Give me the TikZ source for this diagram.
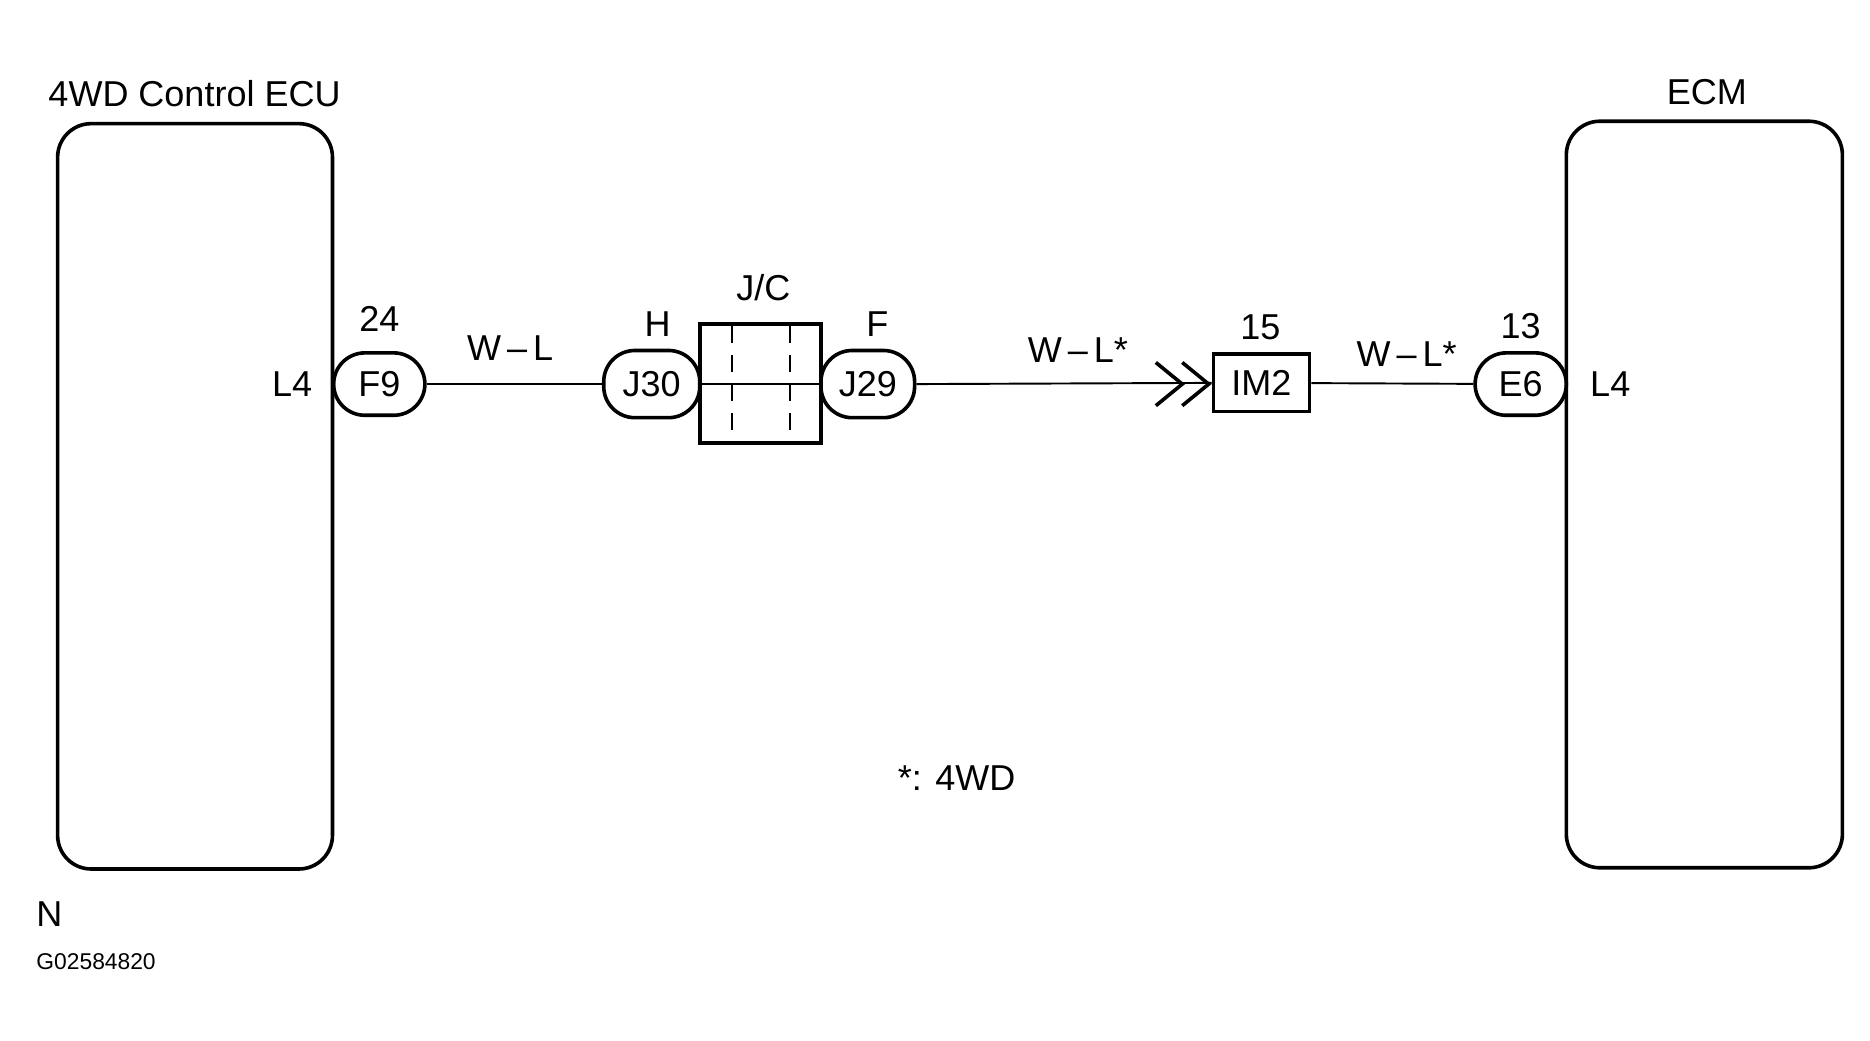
\documentclass[tikz,border=0pt]{standalone}
\usepackage{fontspec}
\setmainfont{Liberation Sans}
\usetikzlibrary{positioning}
\tikzset{
  unit/.style={draw, line width=1.5pt, rounded corners=14pt},
  pill/.style={draw, line width=1.5pt, rounded corners=13pt, minimum width=38pt, minimum height=26pt, inner sep=0pt, font=\fontsize{15}{15}\selectfont},
  term/.style={draw, line width=1.5pt, minimum width=40pt, minimum height=24pt, inner sep=0pt, font=\fontsize{15}{15}\selectfont},
  lbl/.style={font=\fontsize{15}{15}\selectfont, inner sep=0pt},
  wire/.style={line width=0.8pt}
}
\begin{document}
\begin{tikzpicture}[x=0.5pt,y=-0.5pt]
        \useasboundingbox (0,0) rectangle (1558,867);
        % units
        \draw [unit] (48,103) rectangle (277,724);
        \draw [unit] (1305,101) rectangle (1535,723);
        \node (ecu) [lbl, anchor=west] at (40,78) {4WD Control ECU};
        \node (ecm) [lbl] at (1422,77) {ECM};
        % connectors
        \node (f9) [pill] at (316,320) {F9};
        \node (j30) [pill, minimum width=40pt, minimum height=28pt] at (543,320) {J30};
        \node (jc) [term, minimum width=50.5pt, minimum height=49.5pt] at (633.5,319.5) {};
        \node (j29) [pill, minimum width=39pt, minimum height=28pt] at (723,320) {J29};
        \node (im2) [term] at (1051,319) {IM2};
        \node (e6) [pill] at (1267,320) {E6};
        \draw [dashed, line width=0.8pt, dash pattern=on 7pt off 5pt] (610,272) -- (610,368) (658,272) -- (658,368);
        % wires
        \draw [wire] (f9) -- (j30);
        \draw [wire] (j30.east) -- (j29.west);
        \draw [wire] (j29.east) -- (im2.west);
        \draw [wire] (im2) -- (e6);
        \coordinate (chv) at (985,320);
        \draw [line width=1.5pt] ([shift={(-22,-18)}]chv) -- (chv) -- ([shift={(-22,18)}]chv);
        \draw [line width=1.5pt] ([shift={(0,-18)}]chv) -- ([shift={(22,0)}]chv) -- ([shift={(0,18)}]chv);
        % labels
        \node [lbl, left=8pt of f9] {L4};
        \node [lbl, above=8pt of f9] {24};
        \node [lbl] at (425,290) {W\,–\,L};
        \node [lbl] at (548,270) {H};
        \node [lbl] at (636,240) {J/C};
        \node [lbl] at (731,270) {F};
        \node [lbl] at (898,292) {W\,–\,L*};
        \node [lbl] at (1050,273) {15};
        \node [lbl] at (1172,295) {W\,–\,L*};
        \node [lbl] at (1267,272) {13};
        \node [lbl, right=9pt of e6] {L4};
        \node [lbl] at (797,648) {*: 4WD};
        \node [lbl, anchor=west] at (30,762) {N};
        \node [lbl, anchor=west, font=\fontsize{9.5}{9.5}\selectfont] at (30,801) {G02584820};
    \end{tikzpicture}
\end{document}
